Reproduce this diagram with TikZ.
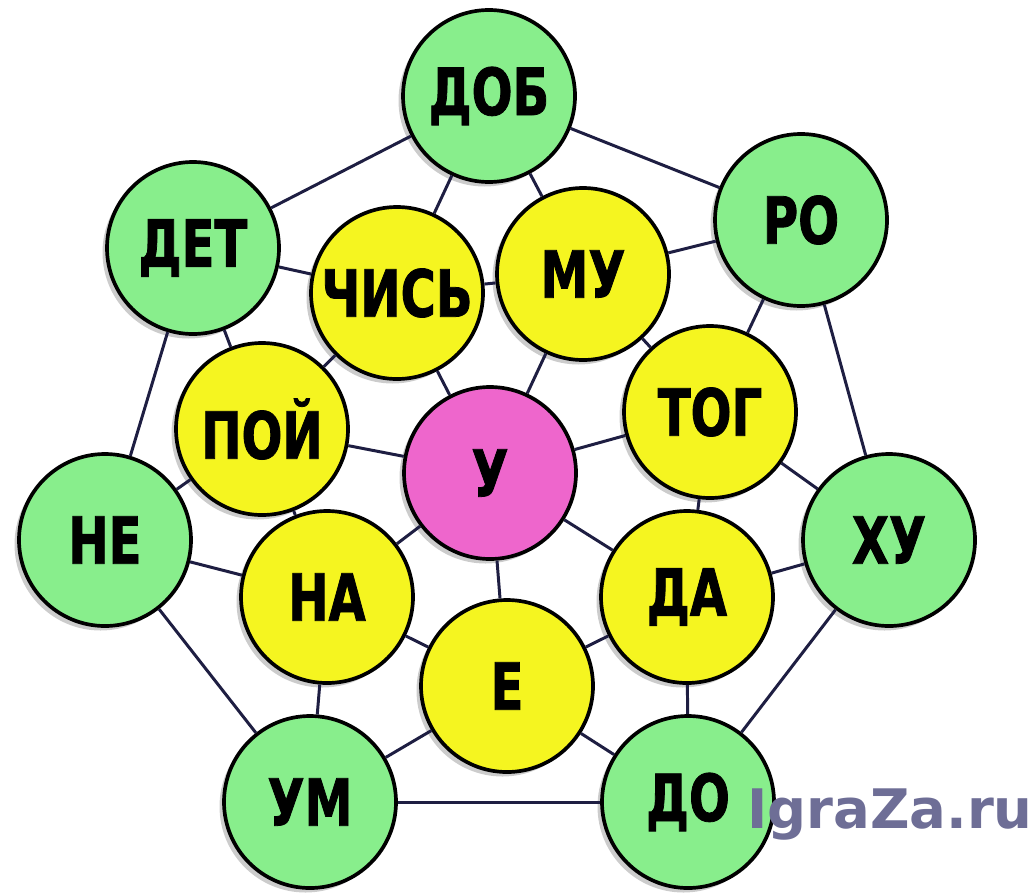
\documentclass[tikz,border=0pt]{standalone}
\usepackage{fontspec}
\setmainfont{DejaVu Sans}
\newfontfamily\wordfont{DejaVu Sans}[FakeStretch=0.74,FakeBold=1.2]
\usetikzlibrary{shadows}
\definecolor{leaf}{HTML}{88EE8C}
\definecolor{petal}{HTML}{F5F520}
\definecolor{core}{HTML}{EE66CC}
\definecolor{wire}{HTML}{1E1E42}
\definecolor{stamp}{HTML}{6E6E96}
\tikzstyle{syl} = [circle,draw=black,line width=2.1pt,minimum size=3.44cm,inner sep=0pt,
  font=\wordfont\bfseries\fontsize{37}{37}\selectfont,
  drop shadow={shadow xshift=-0.09cm,shadow yshift=-0.09cm,opacity=0.4}]
\tikzstyle{outer} = [syl,fill=leaf]
\tikzstyle{inner} = [syl,fill=petal]
\tikzstyle{hub} = [syl,fill=core]
\tikzstyle{edge} = [draw,wire,line width=1.7pt]

\begin{document}
\begin{tikzpicture}
   \useasboundingbox (0,0) rectangle (20.68,-17.9);

   \node[outer] (dob) at (9.78,-1.92)  {ДОБ};
   \node[outer] (ro)  at (16.02,-4.40) {РО};
   \node[outer] (khu) at (17.78,-10.80) {ХУ};
   \node[outer] (do)  at (13.76,-16.04) {ДО};
   \node[outer] (um)  at (6.20,-16.04) {УМ};
   \node[outer] (ne)  at (2.10,-10.80) {НЕ};
   \node[outer] (det) at (3.86,-4.96) {ДЕТ};

   \node[inner] (chis) at (7.94,-5.86) {ЧИСЬ};
   \node[inner] (mu)   at (11.66,-5.48) {МУ};
   \node[inner] (tog)  at (14.20,-8.24) {ТОГ};
   \node[inner] (da)   at (13.74,-11.94) {ДА};
   \node[inner] (e)    at (10.14,-13.72) {Е};
   \node[inner] (na)   at (6.54,-11.94) {НА};
   \node[inner] (poy)  at (5.24,-8.58) {ПОЙ};

   \node[hub] (u) at (9.80,-9.46) {У};

   \path[edge] (dob) edge (ro) edge (chis) edge (mu);
   \path[edge] (ro) edge (khu) edge (mu) edge (tog);
   \path[edge] (khu) edge (do) edge (tog) edge (da);
   \path[edge] (do) edge (um) edge (da) edge (e);
   \path[edge] (um) edge (ne) edge (e) edge (na);
   \path[edge] (ne) edge (det) edge (na) edge (poy);
   \path[edge] (det) edge (dob) edge (poy) edge (chis);

   \path[edge] (chis) edge (mu) edge (poy);
   \path[edge] (tog) edge (mu) edge (da);
   \path[edge] (e) edge (da) edge (na);
   \path[edge] (na) edge (poy);

   \path[edge] (u) edge (chis) edge (mu) edge (tog) edge (da)
                   edge (e) edge (na) edge (poy);

   \node[text=stamp,font=\bfseries\fontsize{31}{31}\selectfont] (site) at (17.80,-16.30) {IgraZa.ru};
\end{tikzpicture}
\end{document}
